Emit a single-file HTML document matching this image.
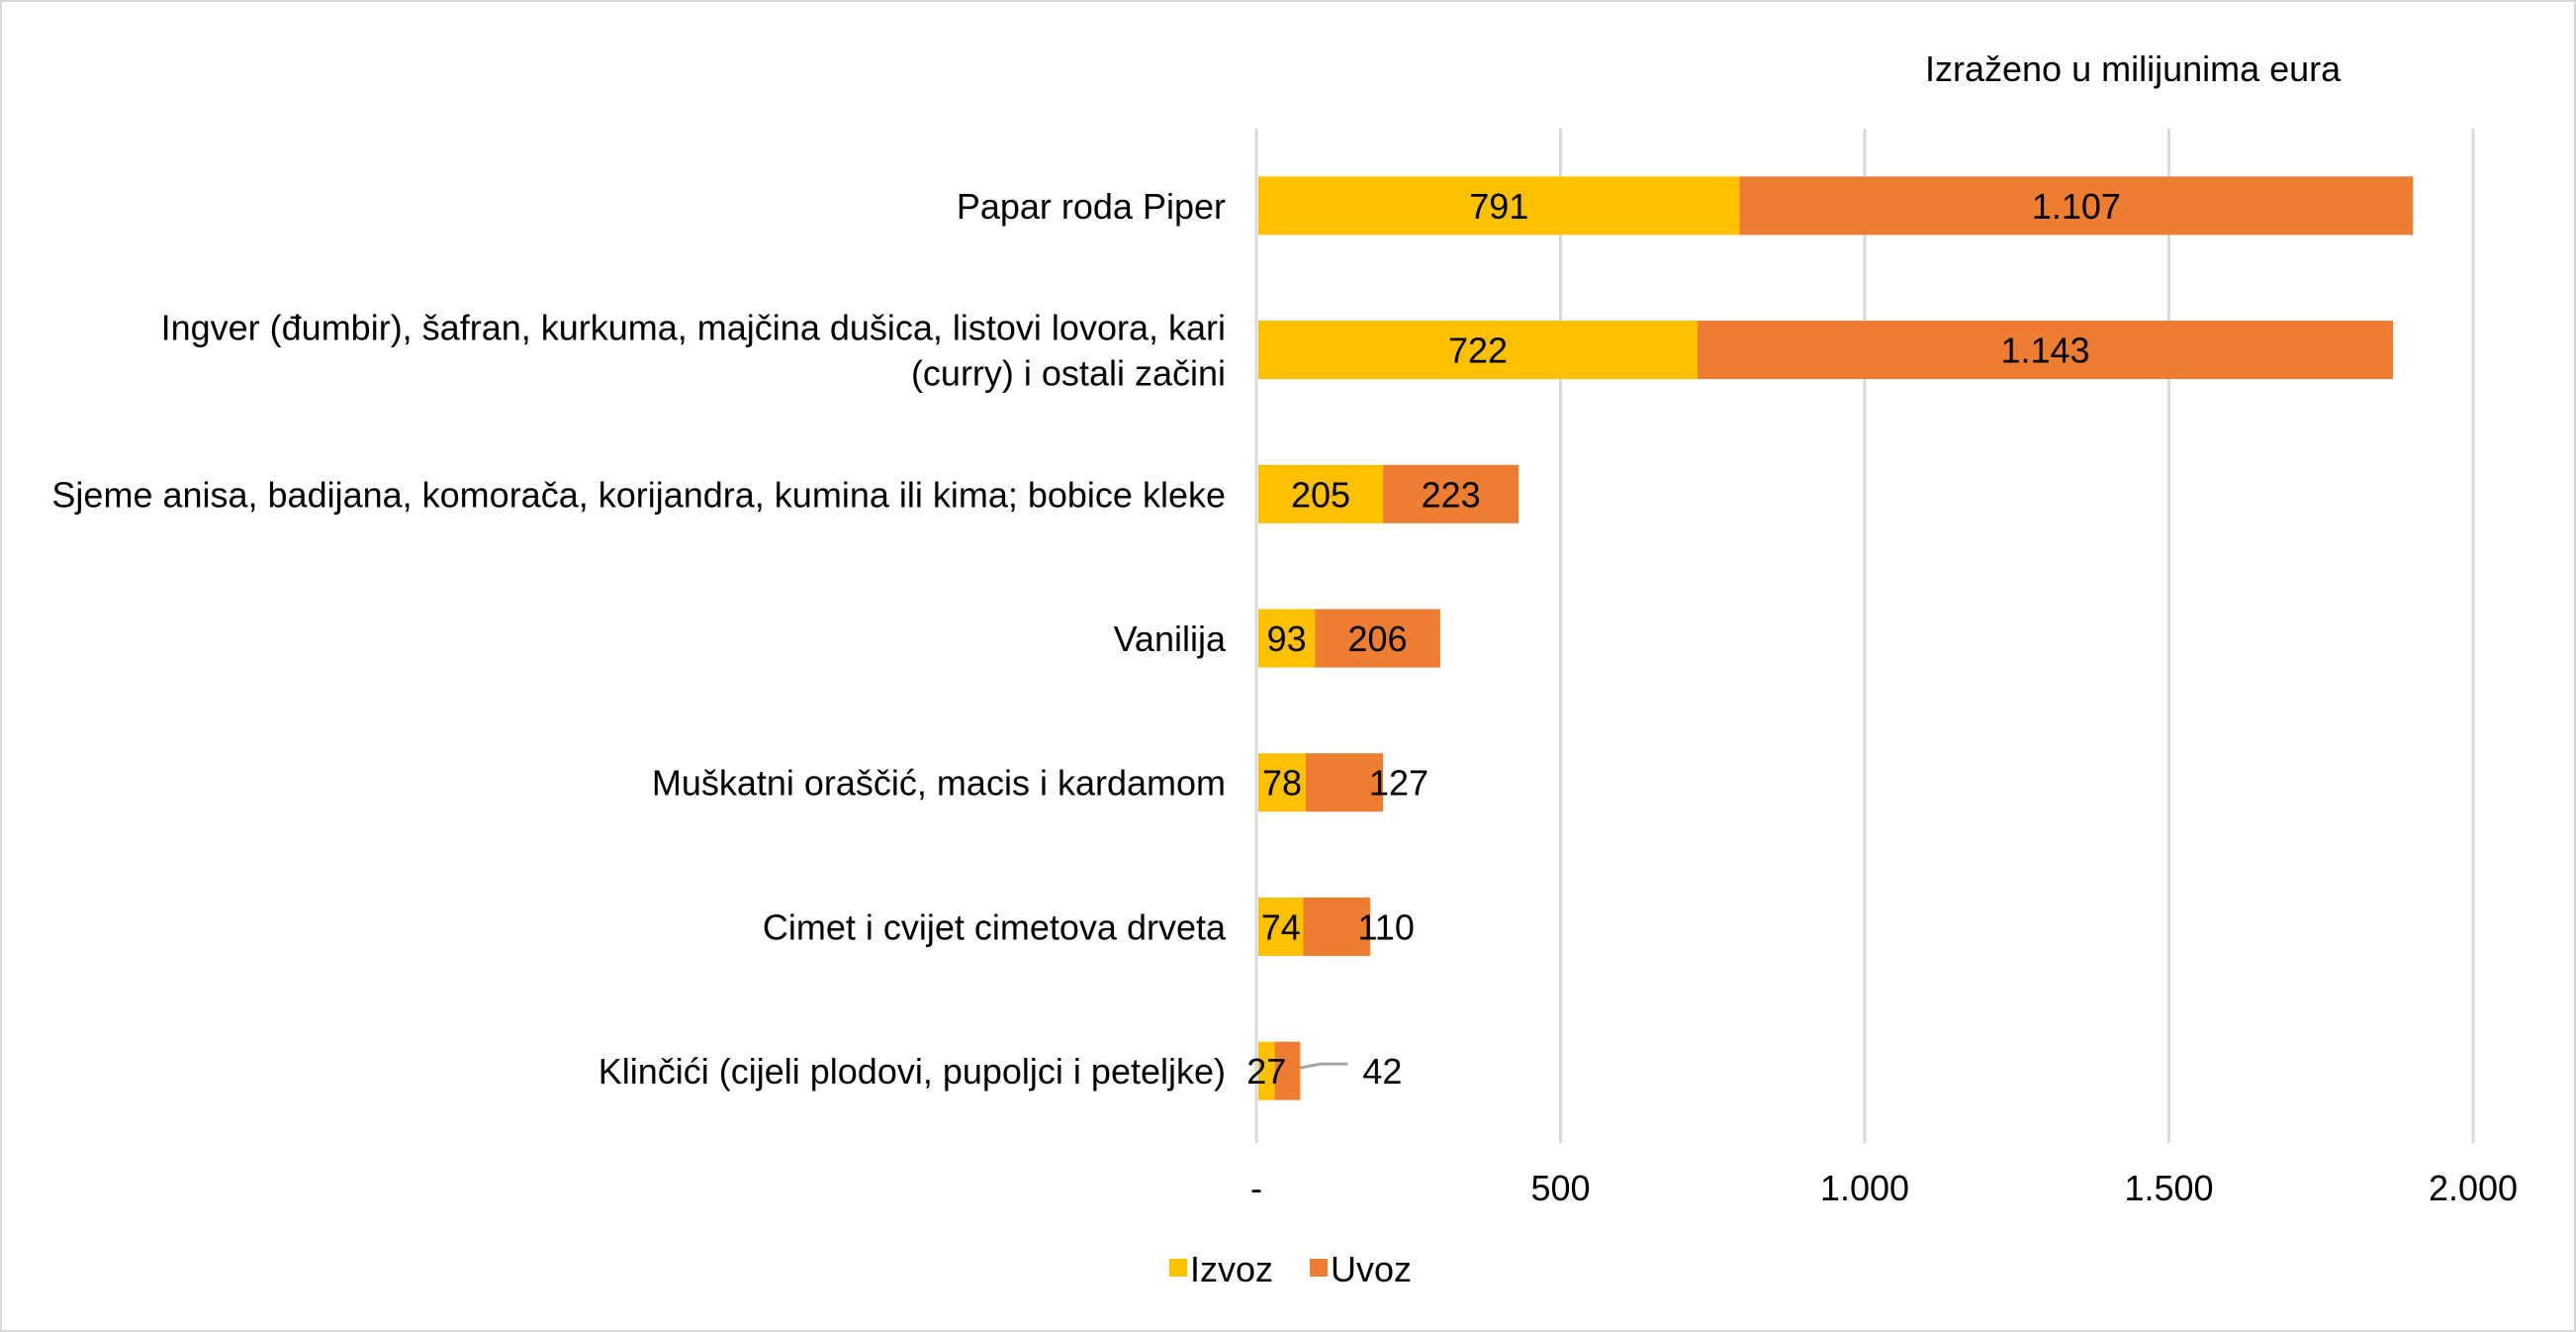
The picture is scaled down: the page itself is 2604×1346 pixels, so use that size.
<!DOCTYPE html>
<html><head><meta charset="utf-8"><style>
html,body{margin:0;padding:0;background:#fff}
svg{display:block;font-family:"Liberation Sans",Arial,sans-serif}
</style></head><body>
<svg id="chart" width="2604" height="1346" viewBox="0 0 2604 1346">
<rect x="1" y="1" width="2602" height="1344" fill="#fff" stroke="#d9d9d9" stroke-width="2"/>
<text x="1946" y="82" font-size="36" fill="#000">Izraženo u milijunima eura</text>
<g id="grid"></g><g id="bars"></g><g id="labels"></g>
<g>
<rect x="1182" y="1272" width="18" height="18" fill="#FFC000"/>
<text x="1203" y="1295" font-size="36">Izvoz</text>
<rect x="1324" y="1272" width="18" height="18" fill="#ED7D31"/>
<text x="1345" y="1295" font-size="36">Uvoz</text>
</g>
</svg>
<script>
const categories=[["Papar roda Piper"],["Ingver (đumbir), šafran, kurkuma, majčina dušica, listovi lovora, kari","(curry) i ostali začini"],["Sjeme anisa, badijana, komorača, korijandra, kumina ili kima; bobice kleke"],["Vanilija"],["Muškatni oraščić, macis i kardamom"],["Cimet i cvijet cimetova drveta"],["Klinčići (cijeli plodovi, pupoljci i peteljke)"]];
const izvoz=[791,722,205,93,78,74,27];
const uvoz=[1107,1143,223,206,127,110,42];
const ticks=[0,500,1000,1500,2000];
const tickLabels=["-","500","1.000","1.500","2.000"];
const NS="http://www.w3.org/2000/svg";
const x0=1270,x1=2500,xmax=2000,yTop=135,yBottom=1155;
const FS=36;
const X=v=>x0+v/xmax*(x1-x0);
const band=(yBottom-yTop)/categories.length;
const Y=i=>yTop+band*(i+0.5);
const fmt=v=>v>=1000?Math.floor(v/1000)+"."+String(v%1000).padStart(3,"0"):String(v);
function mk(t,a,p){const e=document.createElementNS(NS,t);for(const k in a)e.setAttribute(k,a[k]);p.appendChild(e);return e;}
const grid=document.getElementById('grid'),bars=document.getElementById('bars'),labels=document.getElementById('labels');
ticks.forEach((t,i)=>{
 const l=mk('line',{x1:X(t),x2:X(t),y1:yTop-5,y2:yBottom,stroke:'#d9d9d9','stroke-width':3},grid);
 
 
 const tx=mk('text',{x:X(t),y:1213,'font-size':FS,'text-anchor':'middle'},grid);
 tx.textContent=tickLabels[i];
 
 
});
const bh=59;
categories.forEach((c,i)=>{
 const cy=Y(i);
 const a=mk('rect',{x:X(0)+2,y:cy-bh/2,width:X(izvoz[i])-X(0),height:bh,fill:'#FFC000'},bars);
 
 
 const b=mk('rect',{x:X(izvoz[i])+2,y:cy-bh/2,width:X(uvoz[i])-X(0),height:bh,fill:'#ED7D31'},bars);
 
 
 const cl=mk('text',{x:1239,'font-size':FS,'text-anchor':'end'},labels);
 
 
 const n=c.length;
 c.forEach((s,j)=>{const ts=mk('tspan',{x:1239,y:cy+13+(j-(n-1)/2)*46},cl);ts.textContent=s;});
 const la=mk('text',{x:(X(0)+X(izvoz[i]))/2+2,y:cy+13,'font-size':FS,'text-anchor':'middle'},labels);
 la.textContent=fmt(izvoz[i]);
 
 
 let ux=(X(izvoz[i])+X(izvoz[i]+uvoz[i]))/2+2;
 const tot=X(izvoz[i]+uvoz[i]);
 if(uvoz[i]<80){
  ux=tot+85;
  const ln=mk('polyline',{points:`${tot+2},${cy-3} ${tot+22},${cy-7} ${tot+50},${cy-7}`,fill:'none',stroke:'#a6a6a6','stroke-width':3},labels);
  
  
 } else if(uvoz[i]<150){ ux=tot+18; }
 const lb=mk('text',{x:ux,y:cy+13,'font-size':FS,'text-anchor':'middle'},labels);
 lb.textContent=fmt(uvoz[i]);
 
 
});
</script>
</body></html>
